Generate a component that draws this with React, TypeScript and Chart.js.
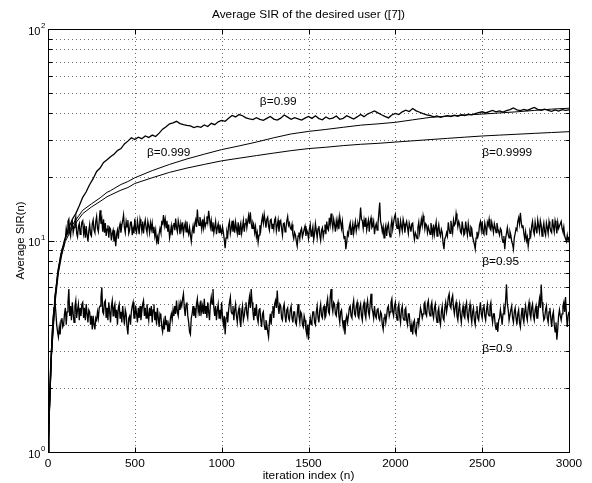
import React, { useEffect, useRef } from 'react';
import { Chart, registerables } from 'chart.js';

Chart.register(...registerables);

// ---------- text ----------
const TITLE = 'Average SIR of the desired user ([7])';
const X_TITLE = 'iteration index (n)';
const Y_TITLE = 'Average SIR(n)';
const X_TICKS = [0, 500, 1000, 1500, 2000, 2500, 3000];
const Y_DECADES = [0, 1, 2];

// ---------- iteration grids ----------
const ITER_NOISY = Array.from({ length: 601 }, (_, i) => i * 5);
const ITER_099 = Array.from({ length: 151 }, (_, i) => i * 20);
const ITER_SMOOTH = [
  0, 20, 40, 60, 80, 100, 130, 160, 200, 250, 300, 340, 360, 380, 420, 460, 500,
  600, 700, 800, 900, 1000, 1100, 1200, 1300, 1400, 1500, 1600, 1700, 1800, 1900,
  2000, 2100, 2200, 2300, 2400, 2500, 2600, 2700, 2800, 2900, 3000,
];

// ---------- series values (Average SIR), one row = 100 iterations ----------
const SIR_090 = [
  1.0, 1.4, 1.8, 2.4, 3.0, 3.7, 4.3, 4.8, 5.1, 4.6, 4.0, 3.7, 3.5, 3.9, 3.6, 4.2, 4.3, 3.9, 4.0, 4.5,
  4.8, 4.0, 4.6, 5.1, 5.9, 4.4, 4.9, 4.2, 5.1, 4.5, 4.1, 4.9, 5.2, 4.3, 4.7, 5.0, 4.2, 4.8, 4.4, 5.0,
  5.1, 4.3, 4.8, 4.2, 5.0, 4.5, 4.1, 4.7, 4.6, 4.0, 4.4, 3.8, 4.4, 4.0, 3.8, 4.3, 4.2, 4.6, 4.3, 4.8,
  4.9, 5.4, 6.0, 4.6, 4.5, 5.1, 5.2, 4.3, 4.8, 4.2, 5.1, 4.6, 4.1, 4.9, 5.2, 4.4, 4.8, 5.0, 4.3, 4.7,
  4.0, 4.8, 5.0, 4.3, 4.6, 4.1, 4.9, 4.4, 4.0, 4.7, 4.5, 3.9, 3.6, 4.3, 4.4, 4.0, 4.6, 4.9, 5.1, 4.3,
  4.3, 4.9, 4.5, 4.1, 4.8, 4.3, 4.9, 4.2, 4.6, 5.0, 5.2, 4.4, 4.8, 4.3, 5.0, 4.5, 4.2, 4.8, 4.4, 4.9,
  4.1, 4.7, 5.0, 4.2, 4.6, 4.0, 4.8, 4.3, 3.9, 4.5, 4.4, 3.9, 3.7, 4.1, 3.8, 4.4, 4.0, 4.2, 3.7, 4.0,
  3.7, 4.3, 4.5, 4.2, 4.7, 4.4, 4.9, 4.5, 5.2, 4.6, 4.4, 5.0, 4.7, 5.1, 4.9, 5.3, 5.6, 4.8, 4.4, 5.0,
  5.1, 4.4, 4.1, 3.7, 3.6, 4.3, 4.5, 4.9, 4.4, 4.8, 4.3, 5.0, 5.3, 4.6, 4.9, 4.4, 5.2, 4.6, 4.9, 4.5,
  5.3, 4.5, 4.9, 4.3, 5.1, 4.6, 4.2, 5.0, 5.4, 5.0, 5.9, 4.8, 4.4, 4.9, 4.2, 4.7, 5.0, 4.3, 4.7, 4.4,
  5.1, 4.3, 4.0, 4.4, 3.6, 4.3, 4.6, 4.1, 4.7, 5.1, 5.4, 4.6, 4.5, 4.9, 4.2, 4.7, 5.0, 4.4, 4.1, 4.6,
  4.8, 4.2, 3.9, 4.6, 4.9, 4.2, 4.4, 4.8, 5.1, 4.5, 4.3, 5.0, 5.4, 4.8, 5.9, 5.1, 4.6, 4.2, 4.8, 4.4,
  5.0, 4.3, 4.1, 4.7, 4.8, 4.2, 3.9, 4.5, 4.6, 4.0, 3.8, 4.2, 4.0, 3.7, 3.5, 4.1, 4.5, 4.0, 4.6, 4.9,
  4.3, 5.0, 5.2, 4.8, 5.8, 4.9, 4.5, 5.0, 4.9, 4.3, 4.2, 4.8, 5.0, 4.4, 4.1, 4.7, 4.8, 4.3, 4.2, 4.7,
  4.9, 4.3, 4.1, 4.6, 4.6, 4.1, 4.0, 4.5, 5.0, 4.4, 4.1, 4.6, 4.5, 4.0, 3.9, 4.4, 4.2, 3.8, 3.6, 4.0,
  3.4, 4.0, 4.3, 4.0, 4.2, 4.6, 4.6, 4.1, 4.0, 4.6, 4.9, 4.3, 4.1, 4.7, 5.0, 4.4, 4.3, 4.8, 4.9, 4.3,
  4.4, 5.0, 5.3, 4.6, 4.5, 5.4, 5.9, 4.9, 4.6, 5.1, 5.0, 4.5, 4.4, 4.9, 5.1, 4.4, 4.1, 4.6, 4.7, 4.2,
  3.9, 4.2, 3.6, 4.2, 4.4, 4.1, 4.4, 4.8, 4.9, 4.4, 4.3, 4.9, 5.2, 4.5, 4.4, 4.9, 5.1, 4.4, 4.3, 4.8,
  5.0, 4.4, 4.2, 4.9, 5.1, 4.5, 4.3, 4.9, 5.2, 4.6, 4.4, 5.0, 5.6, 4.8, 4.6, 4.3, 4.9, 4.4, 4.3, 4.7,
  4.8, 4.3, 4.2, 4.6, 4.5, 4.0, 3.8, 4.3, 4.5, 4.1, 4.4, 4.8, 4.9, 4.4, 4.6, 5.1, 5.3, 4.6, 4.4, 4.9,
  5.1, 4.5, 4.2, 4.8, 5.0, 4.4, 4.1, 4.7, 4.9, 4.3, 4.2, 4.7, 4.8, 4.2, 4.0, 4.5, 4.5, 4.0, 3.7, 4.0,
  3.6, 4.1, 4.2, 3.7, 3.6, 4.1, 4.3, 4.0, 4.4, 4.8, 4.6, 4.3, 4.5, 5.0, 5.1, 4.5, 4.4, 5.0, 5.2, 4.6,
  4.4, 4.9, 5.1, 4.5, 4.3, 4.8, 5.0, 4.4, 4.1, 4.6, 4.8, 4.2, 4.0, 4.6, 4.9, 4.3, 4.2, 4.8, 5.1, 4.6,
  4.9, 5.4, 5.6, 4.9, 4.8, 5.3, 5.5, 4.8, 4.5, 4.9, 5.1, 4.4, 4.2, 4.7, 5.0, 4.4, 4.1, 4.6, 4.9, 4.4,
  4.3, 4.9, 5.1, 4.4, 4.2, 4.7, 5.0, 4.4, 4.1, 4.6, 4.8, 4.2, 4.0, 4.6, 4.9, 4.3, 4.2, 4.7, 5.1, 4.5,
  4.3, 4.8, 5.0, 4.4, 4.2, 4.7, 5.0, 4.5, 4.4, 4.9, 5.1, 4.4, 4.1, 4.5, 4.5, 4.0, 3.8, 4.1, 3.7, 4.2,
  4.3, 4.7, 4.4, 4.0, 4.5, 4.8, 4.6, 5.2, 6.2, 5.0, 4.7, 4.2, 4.2, 4.7, 4.9, 4.3, 4.1, 4.6, 4.8, 4.3,
  4.0, 4.5, 4.7, 4.1, 3.9, 4.4, 4.8, 4.3, 4.1, 4.6, 4.9, 4.4, 4.2, 4.8, 5.1, 4.5, 4.3, 4.8, 5.0, 4.4,
  4.2, 4.7, 4.9, 4.3, 4.3, 4.9, 5.3, 4.8, 6.2, 5.1, 4.6, 4.2, 4.3, 4.7, 4.9, 4.3, 4.1, 4.6, 4.8, 4.3,
  3.9, 4.4, 4.6, 4.0, 3.7, 4.1, 3.4, 3.8, 4.4, 4.7, 4.4, 4.2, 4.5, 4.9, 5.1, 4.6, 5.4, 4.5, 3.9, 4.4,
  4.6,
];

const SIR_095 = [
  1.0, 1.5, 1.9, 2.5, 3.0, 3.7, 4.3, 4.8, 5.4, 5.8, 6.3, 6.9, 7.3, 7.7, 8.2, 8.7, 8.9, 9.3, 9.4, 10.0,
  10.2, 11.4, 10.8, 12.3, 12.6, 11.0, 10.5, 11.9, 12.3, 10.9, 11.5, 12.4, 12.9, 10.8, 10.4, 11.6, 12.0, 10.7, 11.3, 12.2,
  12.4, 10.8, 11.5, 10.3, 11.7, 10.6, 9.9, 11.1, 11.9, 10.7, 10.5, 12.0, 12.5, 11.2, 10.9, 12.3, 13.0, 11.4, 11.0, 12.4,
  13.9, 12.0, 12.6, 11.0, 12.6, 10.9, 12.1, 10.5, 11.3, 11.8, 10.3, 11.5, 11.3, 10.0, 10.8, 11.2, 9.9, 10.6, 9.4, 10.7,
  11.2, 10.2, 11.5, 12.0, 10.9, 11.8, 12.4, 13.2, 11.5, 10.9, 12.3, 11.6, 12.5, 10.8, 11.2, 12.2, 12.2, 10.6, 11.4, 10.8,
  12.7, 11.2, 10.9, 12.4, 11.6, 10.7, 12.6, 12.0, 11.1, 12.3, 10.8, 11.9, 12.5, 11.4, 10.9, 12.3, 11.7, 10.9, 12.1, 11.3,
  12.1, 10.9, 11.6, 10.5, 11.2, 9.9, 10.4, 9.6, 10.8, 11.4, 10.9, 12.2, 12.0, 13.2, 11.8, 12.6, 11.5, 12.4, 11.0, 11.9,
  10.3, 10.9, 11.7, 10.6, 11.8, 12.1, 11.2, 12.7, 11.5, 11.0, 12.4, 11.8, 10.7, 12.0, 11.3, 12.2, 10.8, 11.6, 12.1, 11.0,
  12.3, 11.2, 10.7, 11.5, 10.6, 9.9, 11.0, 11.7, 10.8, 12.0, 12.5, 11.6, 14.0, 12.3, 11.8, 12.9, 12.2, 11.3, 12.6, 11.5,
  12.6, 11.6, 12.1, 13.0, 12.2, 13.8, 12.7, 11.6, 12.4, 11.1, 12.2, 10.9, 11.6, 12.3, 10.7, 11.5, 12.0, 10.9, 11.9, 11.2,
  10.8, 11.6, 10.9, 10.1, 9.2, 10.3, 11.0, 10.5, 11.8, 12.3, 10.8, 11.4, 12.4, 11.0, 11.9, 10.9, 12.2, 11.4, 10.8, 12.2,
  10.7, 11.6, 12.1, 10.8, 11.5, 12.4, 11.0, 12.0, 12.7, 11.5, 12.3, 13.1, 12.0, 13.6, 12.1, 11.4, 12.2, 11.9, 10.9, 11.6,
  10.4, 10.9, 9.8, 10.6, 11.8, 11.2, 12.3, 13.0, 12.1, 13.3, 12.4, 11.5, 12.6, 12.9, 11.7, 11.2, 12.5, 12.6, 11.4, 12.0,
  11.3, 12.5, 12.8, 11.1, 11.8, 12.5, 11.0, 12.1, 12.4, 11.4, 10.6, 12.0, 12.1, 11.0, 11.4, 12.4, 13.0, 11.8, 12.1, 11.5,
  11.3, 11.9, 10.7, 10.2, 10.9, 10.6, 9.9, 9.4, 10.5, 10.9, 10.2, 11.1, 11.4, 10.4, 10.8, 11.3, 11.7, 10.5, 11.2, 10.9,
  10.2, 11.3, 11.9, 10.5, 11.0, 11.6, 10.1, 10.8, 12.0, 11.1, 10.3, 11.4, 11.7, 10.6, 10.0, 11.2, 11.5, 10.4, 11.1, 11.9,
  10.7, 12.3, 11.4, 11.2, 12.8, 11.9, 13.4, 12.2, 11.4, 12.6, 11.9, 11.0, 12.4, 11.6, 12.5, 11.3, 13.0, 12.2, 11.4, 12.3,
  10.9, 10.2, 10.5, 9.1, 9.8, 10.9, 10.6, 11.6, 12.1, 10.7, 11.3, 12.0, 10.8, 11.6, 12.3, 11.1, 11.8, 12.0, 11.5, 12.6,
  14.3, 12.6, 12.4, 11.4, 12.5, 11.6, 12.8, 11.2, 11.9, 12.5, 11.0, 12.3, 12.8, 11.5, 11.7, 12.3, 10.7, 11.6, 12.0, 11.2,
  12.0, 13.4, 15.1, 12.3, 11.8, 11.0, 11.6, 10.3, 11.3, 11.8, 10.5, 11.6, 12.0, 10.9, 10.4, 11.7, 12.5, 11.3, 12.2, 12.9,
  13.3, 12.0, 11.4, 12.8, 11.6, 10.9, 12.4, 11.7, 11.1, 12.6, 12.0, 10.9, 11.9, 12.3, 11.5, 10.8, 12.1, 11.6, 11.0, 12.0,
  12.1, 10.8, 10.1, 10.9, 10.6, 10.2, 11.5, 12.2, 10.9, 11.7, 12.6, 11.8, 13.1, 12.4, 11.3, 12.0, 11.8, 10.9, 11.6, 11.2,
  10.7, 12.1, 11.4, 10.6, 11.9, 10.7, 11.5, 12.2, 10.5, 11.3, 11.9, 10.9, 10.5, 11.3, 10.9, 9.7, 9.1, 10.2, 10.4, 10.9,
  10.5, 12.2, 11.3, 10.8, 12.4, 11.6, 10.9, 12.5, 11.8, 12.0, 13.4, 12.5, 11.6, 12.3, 11.9, 11.0, 10.8, 12.3, 11.4, 10.6,
  10.8, 12.3, 11.3, 10.6, 12.0, 11.2, 10.5, 11.6, 11.4, 10.4, 10.0, 9.6, 9.1, 10.3, 11.0, 10.4, 10.8, 11.9, 12.3, 11.2,
  12.3, 10.9, 10.7, 12.1, 11.5, 10.6, 12.2, 11.8, 12.6, 11.4, 11.2, 12.2, 11.6, 10.9, 12.0, 11.5, 10.9, 12.1, 11.4, 11.0,
  10.6, 11.4, 11.2, 10.2, 9.8, 10.5, 9.1, 10.2, 10.8, 11.5, 10.7, 10.3, 11.0, 10.6, 9.9, 9.6, 9.1, 10.3, 10.8, 11.4,
  11.2, 12.3, 12.8, 12.0, 13.5, 12.2, 11.5, 11.8, 10.8, 10.2, 11.0, 10.0, 10.4, 9.4, 10.2, 11.0, 10.6, 11.7, 12.3, 11.1,
  10.7, 12.2, 11.4, 10.8, 12.5, 11.7, 11.0, 12.4, 11.8, 10.5, 11.4, 12.1, 11.0, 10.6, 12.1, 11.5, 10.8, 12.3, 11.6, 11.1,
  10.9, 12.6, 11.7, 11.0, 12.4, 11.8, 10.8, 12.2, 11.4, 11.7, 12.0, 12.3, 11.4, 11.0, 11.6, 10.5, 10.2, 9.9, 10.6, 10.0,
  10.4,
];

const SIR_099 = [
  1.0, 3.0, 5.4, 7.4, 9.0, 10.3, 11.5, 12.6, 13.4, 14.6,
  16.0, 17.0, 18.4, 19.6, 21.2, 22.0, 23.4, 24.1, 24.9, 25.6,
  26.6, 27.2, 28.6, 29.5, 30.6, 30.0, 30.8, 30.3, 31.2, 30.7,
  31.5, 31.0, 32.2, 33.6, 34.5, 35.6, 36.0, 36.6, 35.7, 35.3,
  35.0, 34.8, 34.2, 34.6, 34.3, 35.2, 34.6, 35.8, 35.3, 36.4,
  37.0, 36.6, 37.8, 39.0, 38.4, 39.4, 38.9, 38.0, 37.6, 37.3,
  38.1, 37.4, 37.0, 37.8, 38.6, 37.5, 37.1, 37.9, 39.2, 38.3,
  37.4, 38.1, 37.6, 37.1, 37.9, 38.6, 37.8, 38.9, 37.7, 37.2,
  38.4, 37.6, 37.9, 38.8, 37.4, 37.8, 38.9, 38.2, 37.5, 38.4,
  39.4, 38.5, 39.6, 40.3, 41.0, 40.1, 39.3, 38.6, 38.0, 39.2,
  39.9, 39.4, 40.6, 41.3, 40.7, 42.1, 41.0, 40.4, 39.8, 39.3,
  39.0, 38.4, 38.8, 38.2, 38.6, 38.9, 38.5, 39.1, 38.7, 39.3,
  39.0, 39.6, 39.3, 39.8, 40.2, 40.6, 40.1, 40.7, 41.2, 40.6,
  41.0, 40.5, 41.1, 41.6, 42.3, 41.5, 41.1, 41.7, 41.2, 41.9,
  42.6, 41.7, 41.3, 41.8, 41.2, 40.8, 41.4, 40.9, 41.6, 41.2,
  41.5,
];

const SIR_0999 = [
  1.0, 2.9, 5.2, 7.3, 8.9, 10.2, 11.5, 12.5, 13.9, 14.9, 15.9, 16.9, 17.2, 17.6, 18.4, 19.0, 19.8,
  21.4, 22.9, 24.3, 25.6, 26.9, 28.0, 29.2, 30.6, 31.9, 32.8, 33.5, 34.3, 35.1, 35.6,
  36.2, 37.2, 38.2, 38.7, 39.2, 39.6, 40.1, 40.6, 41.2, 41.8, 42.2,
];

const SIR_09999 = [
  1.0, 2.8, 5.0, 7.0, 8.6, 9.9, 11.1, 12.1, 13.4, 14.4, 15.3, 16.1, 16.4, 16.7, 17.3, 17.8, 18.6,
  19.8, 21.0, 22.0, 22.9, 23.8, 24.5, 25.2, 25.9, 26.6, 27.2, 27.6, 28.1, 28.5, 28.8,
  29.2, 29.6, 30.0, 30.4, 30.8, 31.2, 31.5, 31.8, 32.1, 32.4, 32.7,
];

// curve labels placed in data coordinates (iteration, SIR)
const CURVE_LABELS = [
  { text: 'β=0.99', n: 1220, v: 44.9 },
  { text: 'β=0.999', n: 570, v: 25.9 },
  { text: 'β=0.9999', n: 2500, v: 25.9 },
  { text: 'β=0.95', n: 2500, v: 7.94 },
  { text: 'β=0.9', n: 2500, v: 3.08 },
];

const FONT = '"Liberation Sans", Arial, Helvetica, sans-serif';
const SX = 1.13;

function drawText(
  ctx: CanvasRenderingContext2D,
  text: string,
  x: number,
  y: number,
  size: number,
  align: CanvasTextAlign,
  baseline: CanvasTextBaseline,
  rot = 0,
  sx = SX
) {
  ctx.save();
  ctx.font = `${size}px ${FONT}`;
  ctx.fillStyle = '#000';
  ctx.textAlign = align;
  ctx.textBaseline = baseline;
  ctx.translate(x, y);
  if (rot) ctx.rotate(rot);
  ctx.scale(sx, 1);
  ctx.fillText(text, 0, 0);
  ctx.restore();
}

function yGridValues(): number[] {
  const vals: number[] = [];
  for (const d of [1, 10]) for (let k = 1; k <= 9; k++) vals.push(d * k);
  vals.push(100);
  return vals;
}

const decorPlugin = {
  id: 'matlabDecor',
  beforeDatasetsDraw(chart: any) {
    const { ctx, chartArea: a, scales } = chart;
    const xs = scales.x;
    const ys = scales.y;
    ctx.save();
    ctx.strokeStyle = '#6a6a6a';
    ctx.lineWidth = 1;
    ctx.setLineDash([1, 3]);
    for (const t of X_TICKS) {
      const px = Math.round(xs.getPixelForValue(t)) + 0.5;
      ctx.beginPath();
      ctx.moveTo(px, a.top);
      ctx.lineTo(px, a.bottom);
      ctx.stroke();
    }
    for (const v of yGridValues()) {
      const py = Math.round(ys.getPixelForValue(v)) + 0.5;
      ctx.beginPath();
      ctx.moveTo(a.left, py);
      ctx.lineTo(a.right, py);
      ctx.stroke();
    }
    ctx.restore();
  },
  afterDraw(chart: any) {
    const { ctx, chartArea: a, scales } = chart;
    const xs = scales.x;
    const ys = scales.y;
    ctx.save();
    ctx.setLineDash([]);
    ctx.strokeStyle = '#000';
    ctx.lineWidth = 1;
    const L = Math.round(a.left) + 0.5;
    const R = Math.round(a.right) + 0.5;
    const T = Math.round(a.top) + 0.5;
    const B = Math.round(a.bottom) + 0.5;
    ctx.strokeRect(L, T, R - L, B - T);
    // inner tick marks
    ctx.beginPath();
    for (const t of X_TICKS) {
      const px = Math.round(xs.getPixelForValue(t)) + 0.5;
      ctx.moveTo(px, B);
      ctx.lineTo(px, B - 5);
      ctx.moveTo(px, T);
      ctx.lineTo(px, T + 5);
    }
    for (const v of yGridValues()) {
      const py = Math.round(ys.getPixelForValue(v)) + 0.5;
      const major = v === 1 || v === 10 || v === 100;
      const len = major ? 6 : 4;
      ctx.moveTo(L, py);
      ctx.lineTo(L + len, py);
      ctx.moveTo(R, py);
      ctx.lineTo(R - len, py);
    }
    ctx.stroke();

    // title
    drawText(ctx, TITLE, (a.left + a.right) / 2, 17.5, 10.5, 'center', 'alphabetic');
    // x tick labels
    for (const t of X_TICKS) {
      drawText(ctx, String(t), xs.getPixelForValue(t), 467, 10.5, 'center', 'alphabetic');
    }
    // x title
    drawText(ctx, X_TITLE, (a.left + a.right) / 2, 479, 10.5, 'center', 'alphabetic');
    // y tick labels 10^k
    for (const k of Y_DECADES) {
      const py = ys.getPixelForValue(Math.pow(10, k));
      drawText(ctx, '10', 40.5, py + 5.5, 10.5, 'right', 'alphabetic', 0, 1.05);
      drawText(ctx, String(k), 41, py - 1, 7.5, 'left', 'alphabetic', 0, 1.05);
    }
    // y title
    drawText(ctx, Y_TITLE, 23.5, (a.top + a.bottom) / 2, 10.5, 'center', 'alphabetic', -Math.PI / 2, 1.08);
    // curve labels
    for (const lb of CURVE_LABELS) {
      drawText(ctx, lb.text, xs.getPixelForValue(lb.n), ys.getPixelForValue(lb.v), 10.5, 'left', 'middle');
    }
    ctx.restore();
  },
};

function pairs(xsArr: number[], ysArr: number[]) {
  return ysArr.map((v, i) => ({ x: xsArr[i], y: v }));
}

export default function App() {
  const ref = useRef<HTMLCanvasElement | null>(null);
  useEffect(() => {
    if (!ref.current) return;
    const lineDs = (data: any[], w: number) => ({
      data,
      borderColor: '#000',
      borderWidth: w,
      pointRadius: 0,
      fill: false,
      tension: 0,
    });
    const chart = new Chart(ref.current, {
      type: 'line',
      data: {
        datasets: [
          lineDs(pairs(ITER_NOISY, SIR_090), 1.3),
          lineDs(pairs(ITER_NOISY, SIR_095), 1.3),
          lineDs(pairs(ITER_099, SIR_099), 1.3),
          lineDs(pairs(ITER_SMOOTH, SIR_0999), 1),
          lineDs(pairs(ITER_SMOOTH, SIR_09999), 1),
        ],
      },
      options: {
        animation: false,
        responsive: false,
        events: [],
        parsing: false as any,
        normalized: true,
        layout: { padding: { left: 48, right: 23, top: 29, bottom: 31 } },
        plugins: {
          legend: { display: false },
          tooltip: { enabled: false },
          title: { display: false },
        },
        scales: {
          x: {
            type: 'linear',
            min: 0,
            max: 3000,
            ticks: { display: false },
            grid: { display: false, drawTicks: false },
            border: { display: false },
          },
          y: {
            type: 'logarithmic',
            min: 1,
            max: 100,
            ticks: { display: false },
            grid: { display: false, drawTicks: false },
            border: { display: false },
          },
        },
      },
      plugins: [decorPlugin],
    } as any);
    return () => chart.destroy();
  }, []);
  return (
    <div style={{ position: 'absolute', left: 0, top: 0, width: 592, height: 483, background: '#fff' }}>
      <canvas ref={ref} width={592} height={483} style={{ display: 'block', width: 592, height: 483 }} />
    </div>
  );
}
